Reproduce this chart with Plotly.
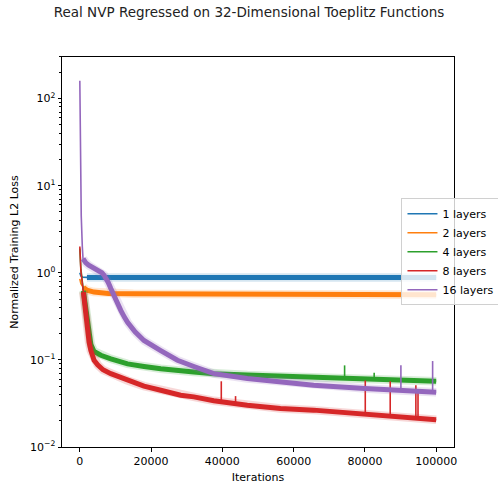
import numpy as np
import plotly.graph_objects as go

# ---------------- data ----------------
labels = ["1 layers", "2 layers", "4 layers", "8 layers", "16 layers"]
colors = ["#1f77b4", "#ff7f0e", "#2ca02c", "#d62728", "#9467bd"]

iters_1 = [0, 300, 800, 2000, 10000, 30000, 50000, 70000, 90000, 100000]
loss_1 = [1.0, 0.92, 0.89, 0.885, 0.885, 0.885, 0.885, 0.885, 0.885, 0.885]

iters_2 = [0, 300, 1000, 2000, 4000, 8000, 15000, 30000, 50000, 70000, 100000]
loss_2 = [0.85, 0.75, 0.68, 0.63, 0.60, 0.58, 0.575, 0.57, 0.57, 0.565, 0.56]

iters_4 = [0, 300, 1000, 1500, 2000, 2600, 3100, 4000, 5900, 8700, 13400, 18000,
           22700, 32000, 37600, 47000, 56300, 65600, 80000, 90000, 100000]
loss_4 = [1.9, 1.1, 0.62, 0.42, 0.30, 0.217, 0.15, 0.125, 0.113, 0.103, 0.09, 0.084,
          0.079, 0.0726, 0.0695, 0.067, 0.065, 0.0626, 0.06, 0.058, 0.057]

iters_8 = [0, 300, 1000, 1500, 1960, 2600, 3100, 4000, 5000, 6500, 8700, 13400, 18000,
           22700, 28300, 32000, 37600, 47000, 56300, 65600, 80000, 90000, 100000]
loss_8 = [2.0, 1.05, 0.6, 0.36, 0.217, 0.16, 0.128, 0.099, 0.088, 0.077, 0.0695, 0.058, 0.05,
          0.0448, 0.0393, 0.0376, 0.0339, 0.0302, 0.0277, 0.0265, 0.0235, 0.0218, 0.0205]

iters_16 = [0, 100, 250, 400, 700, 900, 1200, 1700, 2500, 3300, 4000, 4800, 5500, 6200,
            6800, 7400, 8000, 8700, 9500, 10500, 11500, 12500, 13400, 15500, 18000, 22700,
            27400, 32000, 37600, 47000, 56300, 65600, 80000, 90000, 100000]
loss_16 = [160, 30, 10, 4.5, 2.0, 1.45, 1.35, 1.3, 1.22, 1.17, 1.13, 1.09, 1.05, 1.0,
           0.94, 0.86, 0.77, 0.66, 0.55, 0.45, 0.37, 0.31, 0.27, 0.21, 0.167, 0.128,
           0.099, 0.084, 0.0695, 0.061, 0.0558, 0.051, 0.047, 0.0445, 0.0425]

spike_iters_4 = [74300, 82600]
spike_peaks_4 = [0.0865, 0.071]
spike_iters_8 = [39700, 43700, 80100, 87100, 94300, 94900]
spike_peaks_8 = [0.0568, 0.0384, 0.058, 0.0568, 0.051, 0.046]
spike_iters_16 = [90100, 99000]
spike_peaks_16 = [0.0865, 0.097]

series = [
    (iters_1, loss_1, [], []),
    (iters_2, loss_2, [], []),
    (iters_4, loss_4, spike_iters_4, spike_peaks_4),
    (iters_8, loss_8, spike_iters_8, spike_peaks_8),
    (iters_16, loss_16, spike_iters_16, spike_peaks_16),
]
band_start = 900  # iterations after which the noisy band is drawn thick

fig = go.Figure()
for (xs, ys, sx, sy), name, col in zip(series, labels, colors):
    xs_a = np.array(xs, dtype=float)
    ys_a = np.array(ys, dtype=float)
    fig.add_trace(go.Scatter(x=xs, y=ys, mode="lines", line=dict(color=col, width=1.6),
                             showlegend=False, hoverinfo="skip"))
    m = xs_a >= band_start
    fig.add_trace(go.Scatter(x=xs_a[m], y=ys_a[m], mode="lines",
                             line=dict(color=col, width=8.5),
                             opacity=0.18, showlegend=False, hoverinfo="skip"))
    fig.add_trace(go.Scatter(x=xs_a[m], y=ys_a[m], mode="lines",
                             line=dict(color=col, width=5),
                             showlegend=False, hoverinfo="skip"))
    if sx:
        base = 10 ** np.interp(sx, xs_a, np.log10(ys_a))
        px, py = [], []
        for xi, b, p in zip(sx, base, sy):
            px += [xi, xi, None]
            py += [b, p, None]
        fig.add_trace(go.Scatter(x=px, y=py, mode="lines", line=dict(color=col, width=1.6),
                                 showlegend=False, hoverinfo="skip"))

for name, col in zip(labels, colors):
    fig.add_trace(go.Scatter(x=[None], y=[None], mode="lines", name=name,
                             line=dict(color=col, width=1.6)))

ytickvals = [1e-2, 1e-1, 1e0, 1e1, 1e2]
yticktext = ["10<sup>\u22122</sup>", "10<sup>\u22121</sup>", "10<sup>0</sup>",
             "10<sup>1</sup>", "10<sup>2</sup>"]
minor_vals = [m * 10.0 ** e for e in range(-2, 3) for m in range(2, 10)]

fig.update_layout(
    width=498, height=487,
    margin=dict(l=62, r=44, t=57, b=40, autoexpand=False),
    paper_bgcolor="white", plot_bgcolor="white",
    font=dict(family="DejaVu Sans", size=11, color="black"),
    title=dict(text="Real NVP Regressed on 32-Dimensional Toeplitz Functions",
               x=0.5, xanchor="center", y=0.975, yanchor="middle",
               font=dict(size=13.5, color="#222")),
    showlegend=True,
    legend=dict(x=0.866, xanchor="left", y=0.638, yanchor="top",
                bgcolor="rgba(255,255,255,0.8)", bordercolor="#d0d0d0", borderwidth=1,
                font=dict(size=11), tracegroupgap=0, itemwidth=30),
)
fig.update_xaxes(
    range=[-5000, 105000], showgrid=False, zeroline=False,
    showline=True, mirror=True, linecolor="black", linewidth=1,
    ticks="outside", ticklen=3.5, tickcolor="black",
    tickvals=[0, 20000, 40000, 60000, 80000, 100000],
    ticktext=["0", "20000", "40000", "60000", "80000", "100000"],
    title=dict(text="Iterations", standoff=6, font=dict(size=11)),
)
fig.update_yaxes(
    type="log", range=[-2, 2.477], showgrid=False, zeroline=False,
    showline=True, mirror=True, linecolor="black", linewidth=1,
    ticks="outside", ticklen=3.5, tickcolor="black",
    tickvals=ytickvals, ticktext=yticktext,
    minor=dict(tickvals=minor_vals, ticks="outside", ticklen=2, tickcolor="black", showgrid=False),
    title=dict(text="Normalized Training L2 Loss", standoff=9, font=dict(size=11)),
)

fig.write_html("out.html")
